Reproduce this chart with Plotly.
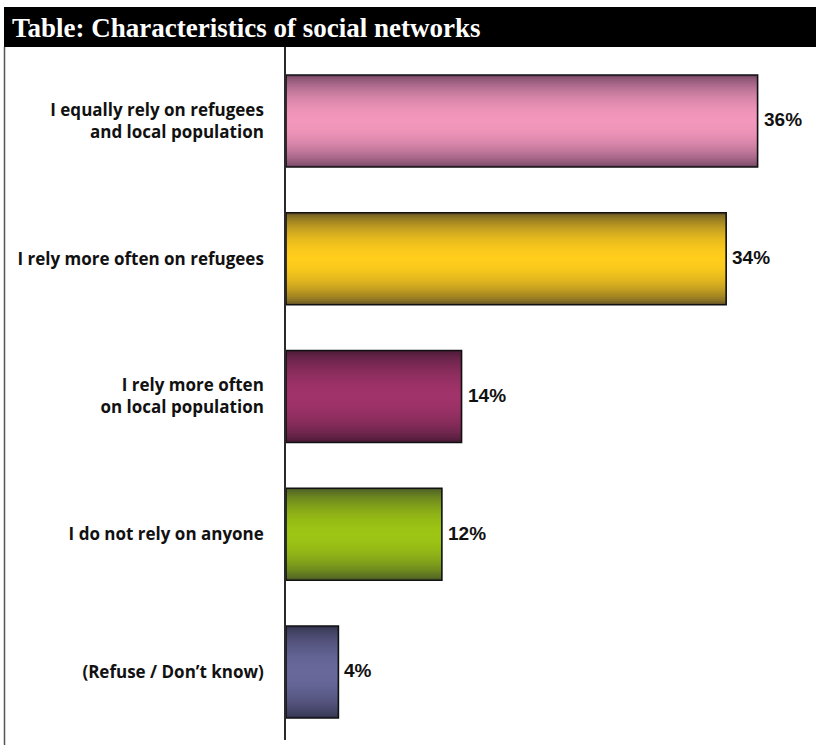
import math
import plotly.graph_objects as go

# ---- data ----
categories = [
    "I equally rely on refugees<br>and local population",
    "I rely more often on refugees",
    "I rely more often<br>on local population",
    "I do not rely on anyone",
    "(Refuse / Don’t know)",
]
values = [36.0, 33.6, 13.4, 11.9, 4.0]
value_labels = ["36%", "34%", "14%", "12%", "4%"]
title_text = "Table: Characteristics of social networks"

# edge (dark) and centre (light) colours of each cylinder-shaded bar
dark_colors = ["#744764", "#6a5926", "#4a1b36", "#4a5b26", "#33334f"]
light_colors = ["#f397bc", "#ffcd1c", "#a0336a", "#9dc514", "#68689b"]

# ---- layout constants (px) ----
W, H = 816, 745
M_L, M_R, M_T, M_B = 286, 0, 47, 5
PX_PER_UNIT = 13.1
plot_w = W - M_L - M_R
plot_h = H - M_T - M_B
BAR_W = 0.668


def hex2rgb(h):
    h = h.lstrip("#")
    return tuple(int(h[i:i + 2], 16) for i in (0, 2, 4))


def mix(c1, c2, t):
    a, b = hex2rgb(c1), hex2rgb(c2)
    return "rgb(%d,%d,%d)" % tuple(round(a[i] + (b[i] - a[i]) * t) for i in range(3))


fig = go.Figure()

N = 24
for k in range(N):
    frac = 1 - k / N
    d = frac / 2
    t = max(0.0, math.cos(math.pi * d)) ** 0.7
    fig.add_trace(go.Bar(
        y=categories, x=values, orientation="h",
        width=BAR_W * frac,
        marker=dict(color=[mix(dc, lc, t) for dc, lc in zip(dark_colors, light_colors)],
                    line=dict(width=0)),
        hoverinfo="skip", showlegend=False,
    ))

# outline
fig.add_trace(go.Bar(
    y=categories, x=values, orientation="h", width=BAR_W,
    marker=dict(color="rgba(0,0,0,0)", line=dict(color="#111111", width=1.6)),
    hoverinfo="skip", showlegend=False,
))

# value labels
for cat, v, lab in zip(categories, values, value_labels):
    fig.add_annotation(x=v, y=cat, xref="x", yref="y", text=lab,
                       xanchor="left", yanchor="middle", xshift=4, yshift=1,
                       showarrow=False,
                       font=dict(family="Liberation Sans", size=19, color="#111111", weight="bold"))

fig.update_layout(
    width=W, height=H,
    margin=dict(l=M_L, r=M_R, t=M_T, b=M_B, pad=0),
    barmode="overlay",
    plot_bgcolor="white", paper_bgcolor="white",
    xaxis=dict(range=[0, plot_w / PX_PER_UNIT], visible=False, fixedrange=True),
    yaxis=dict(
        type="category", categoryorder="array", categoryarray=categories,
        range=[4.494, -0.537],
        showline=True, linecolor="#2a2a2a", linewidth=1.5,
        showgrid=False, zeroline=False, ticks="",
        ticklabelstandoff=17,
        tickfont=dict(family="Open Sans", size=17, color="#111111", weight="bold"),
        fixedrange=True,
    ),
    showlegend=False,
)

# title bar
fig.add_shape(type="rect", xref="paper", yref="paper",
              x0=(4 - M_L) / plot_w, x1=1.0,
              y0=1.0, y1=1 + 40 / plot_h,
              fillcolor="black", line=dict(width=0))
fig.add_annotation(xref="paper", yref="paper",
                   x=(10 - M_L) / plot_w, y=1 + 19 / plot_h,
                   xanchor="left", yanchor="middle", showarrow=False,
                   text=title_text,
                   font=dict(family="Liberation Serif", size=27, color="white", weight="bold"))
# left frame line
fig.add_shape(type="line", xref="paper", yref="paper",
              x0=(4.5 - M_L) / plot_w, x1=(4.5 - M_L) / plot_w,
              y0=-M_B / plot_h, y1=1.0,
              line=dict(color="#555555", width=1.5))

fig.write_html("out.html", config={"displayModeBar": False},
               post_script="document.body.style.margin='0';")
